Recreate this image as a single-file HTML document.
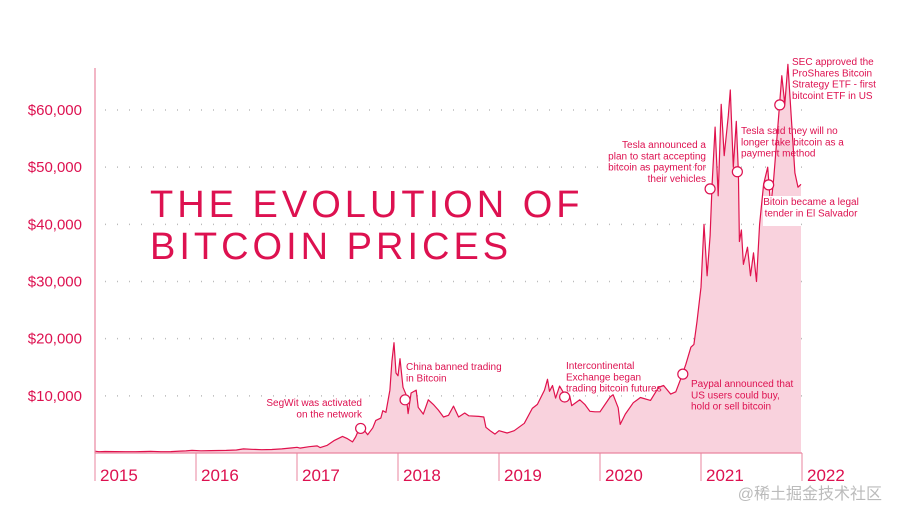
<!DOCTYPE html>
<html><head><meta charset="utf-8"><style>
html,body{margin:0;padding:0;background:#fff;width:898px;height:519px;overflow:hidden}
svg{display:block;font-family:"Liberation Sans",sans-serif}
</style></head><body>
<svg id="chart" width="898" height="519">
<g id="grid"></g>
<path id="area" fill="#f9d2dd"/>
<path id="line" fill="none" stroke="#e0124d" stroke-width="1.2" stroke-linejoin="round"/>
<g id="axes"></g>
<g id="ann"></g>
<g fill="#dd1150" font-size="38" letter-spacing="4">
<text x="150" y="217">THE EVOLUTION OF</text>
<text x="150" y="259">BITCOIN PRICES</text>
</g>
<text x="882" y="499" text-anchor="end" font-size="16" fill="#bbb" font-family="'Liberation Sans','Noto Sans CJK SC',sans-serif">@稀土掘金技术社区</text>
</svg>
<script>
const dates=[2015.0,2015.04,2015.1,2015.2,2015.3,2015.4,2015.5,2015.55,2015.65,2015.75,2015.84,2015.9,2015.96,2016.05,2016.15,2016.3,2016.4,2016.47,2016.55,2016.65,2016.75,2016.85,2016.95,2017.0,2017.03,2017.12,2017.2,2017.23,2017.3,2017.37,2017.45,2017.5,2017.55,2017.58,2017.62,2017.66,2017.7,2017.75,2017.78,2017.83,2017.85,2017.88,2017.92,2017.94,2017.96,2017.98,2018.0,2018.02,2018.05,2018.08,2018.1,2018.13,2018.18,2018.2,2018.25,2018.3,2018.35,2018.4,2018.45,2018.5,2018.55,2018.6,2018.66,2018.7,2018.8,2018.85,2018.87,2018.92,2018.96,2019.0,2019.08,2019.15,2019.25,2019.33,2019.38,2019.45,2019.48,2019.5,2019.53,2019.56,2019.6,2019.65,2019.7,2019.72,2019.8,2019.85,2019.9,2019.95,2020.0,2020.1,2020.13,2020.18,2020.2,2020.25,2020.33,2020.4,2020.5,2020.58,2020.63,2020.7,2020.75,2020.8,2020.85,2020.9,2020.93,2020.96,2021.0,2021.03,2021.06,2021.09,2021.11,2021.14,2021.17,2021.2,2021.23,2021.27,2021.29,2021.32,2021.35,2021.37,2021.38,2021.4,2021.42,2021.46,2021.49,2021.52,2021.55,2021.58,2021.62,2021.66,2021.69,2021.72,2021.76,2021.8,2021.83,2021.86,2021.9,2021.93,2021.96,2021.99];
const prices=[315,220,255,250,225,230,260,290,230,240,330,360,450,380,420,450,530,720,650,575,610,720,900,1000,850,1100,1250,950,1350,2200,2900,2500,1950,2800,4400,4100,3200,4400,5700,6100,7400,7100,11000,16000,19300,14000,13500,16500,11500,10200,6900,10500,11000,8000,6800,9300,8500,7500,6300,6600,8200,6300,7000,6500,6400,6300,4500,3800,3300,3900,3500,3900,5200,7800,8500,11000,12900,10800,11800,9600,11700,10200,10000,8300,9300,8500,7300,7200,7200,9800,10200,7900,5000,6800,8800,9700,9200,11500,11800,10300,10700,13000,15500,18500,19000,23000,29000,40000,31000,38000,47000,57000,45000,61000,52000,59000,63500,50000,58000,49000,37000,39000,33000,36000,31000,35000,30000,40000,47000,50000,43000,48000,57000,66000,61000,68000,57000,49000,46500,47000];
const yTicks=[10000,20000,30000,40000,50000,60000];
const yTickLabels=["$10,000","$20,000","$30,000","$40,000","$50,000","$60,000"];
const years=[2015,2016,2017,2018,2019,2020,2021,2022];
const annDates=[2017.63,2018.07,2019.65,2020.82,2021.09,2021.36,2021.67,2021.78];
const annPrices=[4300,9300,9800,13800,46200,49200,46900,60900];
const annTexts=[["SegWit was activated","on the network"],["China banned trading","in Bitcoin"],["Intercontinental","Exchange began","trading bitcoin futures"],["Paypal announced that","US users could buy,","hold or sell bitcoin"],["Tesla announced a","plan to start accepting","bitcoin as payment for","their vehicles"],["Tesla said they will no","longer take bitcoin as a","payment method"],["Bitoin became a legal","tender in El Salvador"],["SEC approved the","ProShares Bitcoin","Strategy ETF - first","bitcoint ETF in US"]];
const annLayout=[[362,406,"end"],[406,370,"start"],[566,369,"start"],[691,387,"start"],[706,148,"end"],[741,134,"start"],[811,205,"middle"],[792,65,"start"]];

const NS="http://www.w3.org/2000/svg";
const X0=95,PX=101,Y0=453,PY=343/60000;
const x=d=>X0+(d-2015)*PX;
const y=v=>Y0-v*PY;
function mk(tag,attrs,parent,txt){const e=document.createElementNS(NS,tag);for(const k in attrs)e.setAttribute(k,attrs[k]);if(txt!=null)e.textContent=txt;parent.appendChild(e);return e;}
const C="#dd1150";
const grid=document.getElementById('grid'),axes=document.getElementById('axes'),ann=document.getElementById('ann');
yTicks.forEach((t,i)=>{
  const g=mk('line',{x1:105,x2:x(2022),y1:y(t),y2:y(t),stroke:"#bbb","stroke-width":1.5,"stroke-dasharray":"1 11"},grid);
  
  
  const l=mk('text',{x:82,y:y(t)+5,"text-anchor":"end","font-size":15,fill:C},axes,yTickLabels[i]);
  
  
});
let p="M"+x(dates[0])+","+y(prices[0]);
for(let i=1;i<dates.length;i++)p+=" L"+x(dates[i]).toFixed(1)+","+y(prices[i]).toFixed(1);
document.getElementById('line').setAttribute('d',p);
document.getElementById('area').setAttribute('d',p+" L"+x(dates[dates.length-1])+","+Y0+" L"+x(dates[0])+","+Y0+"Z");
const ax=mk('line',{x1:X0,x2:x(2022),y1:Y0,y2:Y0,stroke:"#e9859f","stroke-width":1.2},axes);


const yax=mk('line',{x1:X0,x2:X0,y1:68,y2:Y0,stroke:"#e9859f","stroke-width":1.2},axes);


years.forEach(yr=>{
  const t=mk('line',{x1:x(yr),x2:x(yr),y1:Y0,y2:481,stroke:"#e9859f","stroke-width":1},axes);
  
  
  const l=mk('text',{x:x(yr)+5,y:481,"font-size":17,fill:C},axes,String(yr));
  
  
});
mk('rect',{x:763,y:196,width:38,height:30,fill:"#fff"},ann);
annDates.forEach((d,i)=>{
  const c=mk('circle',{cx:x(d),cy:y(annPrices[i]),r:5,fill:"#fff",stroke:C,"stroke-width":1.2},ann);
  
  
  const [tx,ty,anc]=annLayout[i];
  const t=mk('text',{x:tx,y:ty,"text-anchor":anc,"font-size":10,fill:C},ann);
  
  
  annTexts[i].forEach((s,j)=>mk('tspan',{x:tx,dy:j?11.3:0},t,s));
});
</script>
</body></html>
